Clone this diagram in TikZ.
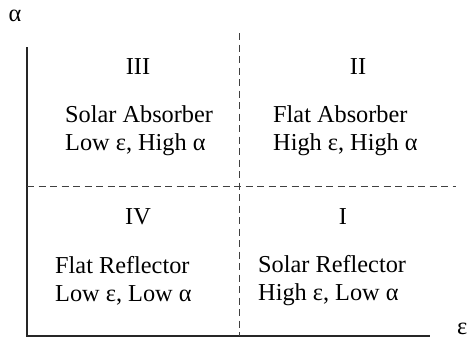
\documentclass[tikz,border=0pt]{standalone}
\usepackage{fontspec}
\setmainfont{Liberation Serif}
\usetikzlibrary{positioning}
\tikzset{
    axis/.style = {
        draw = black!85,
        line width = 1.3pt
    },
    split/.style = {
        draw = black!75,
        line width = 1pt,
        dash pattern = on 7pt off 4.5pt
    },
    numeral/.style = {
        inner sep = 0pt,
        font = \fontsize{24.3}{28}\selectfont
    },
    desc/.style = {
        inner sep = 0pt,
        align = left,
        anchor = west,
        font = \fontsize{24.3}{28}\selectfont
    }
}

\begin{document}
\begin{tikzpicture}[x=1pt, y=-1pt]
    \useasboundingbox (0,0) rectangle (470,340);
%axes
    \coordinate (O) at (27,336);
    \coordinate (ytop) at (27,47);
    \coordinate (xend) at (430,336);
    \draw[axis] (ytop) -- (O) -- (xend);
    \node (alpha) [numeral] at (15,16) {α};
    \node (eps) [numeral, right = 27pt of xend, yshift = 7pt] {ε};
%quadrant borders
    \coordinate (vtop) at (239,33);
    \coordinate (vbot) at (239,336);
    \coordinate (hleft) at (27,186);
    \coordinate (hright) at (456,186);
    \draw[split] (vtop) -- (vbot);
    \draw[split] (hleft) -- (hright);
%quadrants
    \node (q3) [numeral] at (138,67) {III};
    \node (q2) [numeral] at (358,67) {II};
    \node (q4) [numeral] at (138,217) {IV};
    \node (q1) [numeral] at (343,217) {I};
    \node (q3text) [desc] at (65,131) {Solar Absorber\\Low ε, High α};
    \node (q2text) [desc] at (273,131) {Flat Absorber\\High ε, High α};
    \node (q4text) [desc] at (55,281) {Flat Reflector\\Low ε, Low α};
    \node (q1text) [desc] at (258,281) {Solar Reflector\\High ε, Low α};
\end{tikzpicture}
\end{document}
